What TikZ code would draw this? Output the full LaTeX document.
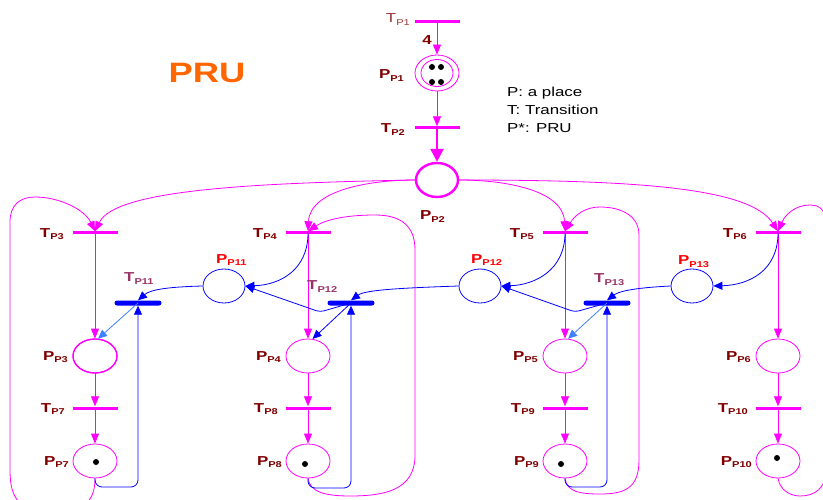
\documentclass[tikz,border=0pt]{standalone}
\usepackage{fontspec}
\setmainfont{Liberation Sans}[FakeStretch=1.3]
\usetikzlibrary{shapes.geometric,arrows.meta}
\definecolor{mag}{RGB}{255,0,255}
\definecolor{lblred}{RGB}{128,0,0}
\definecolor{lblpur}{RGB}{153,51,102}
\definecolor{pruorange}{RGB}{255,102,0}
\definecolor{lblue}{RGB}{64,128,255}
\newcommand\plab[2]{#1{\fontsize{8.5}{8.5}\selectfont\raisebox{-2.5pt}{#2}}}
\begin{document}
\begin{tikzpicture}[x=1pt,y=-1pt,
  place/.style={ellipse, draw=mag, line width=0.8pt, minimum width=44pt, minimum height=34pt, inner sep=0pt},
  bplace/.style={ellipse, draw=blue, line width=0.8pt, minimum width=42pt, minimum height=34pt, inner sep=0pt},
  mbar/.style={rectangle, fill=mag, minimum width=45pt, minimum height=3pt, inner sep=0pt},
  bbar/.style={rectangle, fill=blue, minimum width=47pt, minimum height=5pt, inner sep=0pt, rounded corners=2.5pt},
  marc/.style={draw=mag, line width=0.8pt, -{Triangle[length=10pt,width=8pt]}},
  barc/.style={draw=blue, line width=0.8pt, -{Triangle[length=9pt,width=8pt]}},
  lab/.style={font=\fontsize{13}{13}\selectfont\bfseries, text=lblred, inner sep=0pt},
  rlab/.style={lab, text=red},
  plab/.style={lab, text=lblpur},
  token/.style={fill=black}
]
\clip (0,0) rectangle (823,500);

% ---------- top part
\node[text=pruorange, font=\fontsize{28}{28}\selectfont\bfseries, anchor=base] (pru) at (207,83) {PRU};
\node[anchor=base west, font=\fontsize{13}{13}\selectfont, inner sep=0pt] (leg1) at (507,97) {P: a place};
\node[anchor=base west, font=\fontsize{13}{13}\selectfont, inner sep=0pt] (leg2) at (507,115) {T: Transition};
\node[anchor=base west, font=\fontsize{13}{13}\selectfont, inner sep=0pt] (leg3) at (507,133) {P*: PRU};

\node[mbar] (TP1) at (437,22) {};
\node[lab, font=\fontsize{13}{13}\selectfont, text=lblred!80!white, anchor=base east] (lTP1) at (410,23) {\plab{T}{P1}};
\node[place, minimum width=44pt, minimum height=36pt] (PP1) at (437,73) {};
\node[ellipse, draw=mag, line width=0.8pt, minimum width=32pt, minimum height=27pt, inner sep=0pt] (PP1in) at (437,73) {};
\fill[token] (432,67) circle (3pt) (441,67) circle (3pt) (432,82) circle (3pt) (441,82) circle (3pt);
\node[lab, anchor=base east] (lPP1) at (404,79) {\plab{P}{P1}};
\node[lab, anchor=base] (w4) at (427,45) {4};
\draw[marc] (TP1.center) -- (PP1.north);

\node[mbar] (TP2) at (437,128) {};
\node[lab, anchor=base east] (lTP2) at (405,133) {\plab{T}{P2}};
\draw[marc] (PP1.south) -- (TP2.north);

\node[place, line width=2.4pt, minimum width=42pt, minimum height=34pt] (PP2) at (437,180) {};
\node[lab, anchor=base east] (lPP2) at (445,220) {\plab{P}{P2}};
\draw[draw=mag, line width=2.4pt, -{Triangle[length=13pt,width=13pt]}] (TP2.center) -- (PP2.north);

% ---------- four columns
\foreach \cx/\a/\b in {95/3/7, 308/4/8, 565/5/9, 778/6/10}{
  \node[mbar] (TP\a) at (\cx,233) {};
  \node[place] (PP\a) at (\cx,356) {};
  \node[mbar] (TP\b) at (\cx,408) {};
  \node[place] (PP\b) at (\cx,461) {};
  \draw[marc] (TP\a.center) -- (PP\a.north);
  \draw[marc] (PP\a.south) -- (TP\b.north);
  \draw[marc] (TP\b.center) -- (PP\b.north);
  \node[lab, anchor=base east] (lTP\a) at (\cx-31,237) {\plab{T}{P\a}};
  \node[lab, anchor=base east] (lPP\a) at (\cx-27,360) {\plab{P}{P\a}};
  \node[lab, anchor=base east] (lTP\b) at (\cx-30,412) {\plab{T}{P\b}};
  \node[lab, anchor=base east] (lPP\b) at (\cx-26,465) {\plab{P}{P\b}};
}
\draw[mag, line width=1.4pt] (PP3.center) ellipse (22pt and 17pt);
\fill[token] (96,462) circle (3pt) (305,464) circle (3pt) (561,464) circle (3pt) (777,458) circle (3pt);

% fan-out from PP2
\draw[marc] (PP2.west) .. controls (250,183) and (115,190) .. (TP3.north);
\draw[marc] (PP2.west) .. controls (370,180) and (310,190) .. (TP4.north);
\draw[marc] (PP2.east) .. controls (505,180) and (563,190) .. (TP5.north);
\draw[marc] (PP2.east) .. controls (640,180) and (750,188) .. (TP6.north);

% return loops
\draw[marc] (PP7.south) .. controls (95,500) and (85,512) .. (55,512)
  .. controls (20,512) and (10,500) .. (10,470) -- (10,222)
  .. controls (10,205) and (20,197) .. (35,197)
  .. controls (60,197) and (85,210) .. (TP3.north);
\draw[marc] (PP8.south) .. controls (310,492) and (325,496) .. (350,496)
  .. controls (385,496) and (415,490) .. (415,455) -- (415,250)
  .. controls (415,225) and (400,215) .. (375,215)
  .. controls (345,215) and (325,220) .. (TP4.north);
\draw[marc] (PP9.south) .. controls (567,492) and (580,494) .. (600,494)
  .. controls (625,494) and (639,488) .. (639,460) -- (639,235)
  .. controls (639,215) and (620,207) .. (600,207)
  .. controls (585,207) and (575,215) .. (TP5.north);
\draw[marc] (PP10.south) .. controls (780,490) and (790,496) .. (800,496)
  .. controls (815,496) and (826,488) .. (826,470) -- (826,225)
  .. controls (826,210) and (820,205) .. (810,205)
  .. controls (795,205) and (785,215) .. (TP6.north);

% ---------- blue sub-net
\node[bplace] (PP11) at (224,286) {};
\node[bplace] (PP12) at (480,286) {};
\node[bplace] (PP13) at (692,286) {};
\node[bbar] (TP11) at (138,303) {};
\node[bbar] (TP12) at (351,303) {};
\node[bbar] (TP13) at (607,303) {};
\node[rlab, anchor=base west] (lPP11) at (216,263) {\plab{P}{P11}};
\node[rlab, anchor=base west] (lPP12) at (471,263) {\plab{P}{P12}};
\node[rlab, anchor=base west] (lPP13) at (678,265) {\plab{P}{P13}};
\node[plab, anchor=base west] (lTP11) at (124,282) {\plab{T}{P11}};
\node[plab, anchor=base west] (lTP12) at (307,290) {\plab{T}{P12}};
\node[plab, anchor=base west] (lTP13) at (594,283) {\plab{T}{P13}};

% column 1
\draw[barc] (PP11.west) .. controls (165,287) and (150,290) .. (TP11.north);
\draw[barc, draw=lblue] (TP11.center) -- (PP3.80);
\draw[barc, rounded corners=7pt] (PP7.south) -- (95,487) -- (138,487) -- (TP11.south);
% column 2
\draw[barc] (TP4.center) .. controls (308,270) and (280,285) .. (PP11.east);
\draw[barc, rounded corners=4pt] (TP12.center) -- (320,312) -- (PP11.east);
\draw[barc] (PP12.west) .. controls (400,288) and (365,290) .. (TP12.north);
\draw[barc] (TP12.center) -- (PP4.75);
\draw[barc, rounded corners=7pt] (PP8.south) -- (308,488) -- (351,488) -- (TP12.south);
% column 3
\draw[barc] (TP5.center) .. controls (565,270) and (535,285) .. (PP12.east);
\draw[barc, rounded corners=4pt] (TP13.center) -- (575,312) -- (PP12.east);
\draw[barc] (PP13.west) .. controls (630,288) and (618,292) .. (TP13.north);
\draw[barc, draw=lblue] (TP13.center) -- (PP5.80);
\draw[barc, rounded corners=7pt] (PP9.south) -- (565,487) -- (607,487) -- (TP13.south);
% column 4
\draw[barc] (TP6.center) .. controls (778,270) and (750,285) .. (PP13.east);
\end{tikzpicture}
\end{document}
